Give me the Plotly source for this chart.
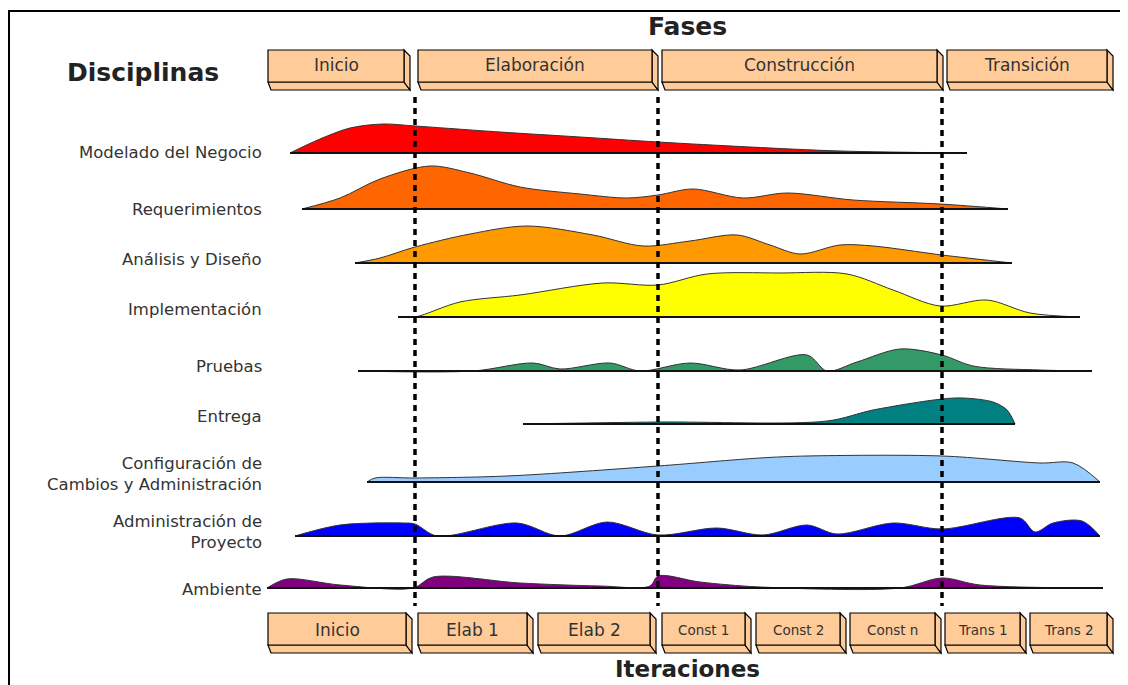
import plotly.graph_objects as go

# ---------------- DATA ----------------
disciplines = ["Modelado del Negocio", "Requerimientos", "Análisis y Diseño", "Implementación",
               "Pruebas", "Entrega", "Configuración de<br>Cambios y Administración",
               "Administración de<br>Proyecto", "Ambiente"]

phases = ["Inicio", "Elaboración", "Construcción", "Transición"]
iterations = ["Inicio", "Elab 1", "Elab 2", "Const 1", "Const 2", "Const n", "Trans 1", "Trans 2"]
phase_bounds = [415, 658, 942]  # time positions of phase changes

modelado_t = [290, 320, 350, 383, 415, 500, 580, 658, 750, 840, 967]
modelado_h = [0, 14, 25, 29, 27, 21, 16, 11, 6, 2, 0]

requer_t = [302, 340, 380, 430, 470, 520, 580, 627, 658, 693, 743, 787, 853, 940, 1008]
requer_h = [0, 11, 30, 43, 36, 22, 15, 11, 14, 20, 11, 16, 9, 5, 0]

analisis_t = [355, 380, 415, 470, 527, 593, 643, 690, 737, 770, 800, 840, 873, 942, 1012]
analisis_h = [0, 5, 16, 29, 37, 28, 17, 22, 28, 18, 9, 18, 17, 8, 0]

implem_t = [398, 415, 460, 520, 603, 658, 707, 780, 847, 893, 940, 987, 1030, 1080]
implem_h = [0, 0, 15, 22, 34, 32, 43, 44, 43, 27, 11, 17, 4, 0]

pruebas_t = [358, 473, 533, 560, 610, 640, 690, 740, 807, 827, 857, 900, 942, 973, 1040, 1092]
pruebas_h = [0, 0, 8, 2, 8, 0, 8, 1, 16, 0, 9, 22, 16, 5, 1, 0]

entrega_t = [523, 658, 827, 873, 942, 963, 993, 1007, 1015]
entrega_h = [0, 2, 3, 14, 25, 26, 22, 14, 0]

config_t = [367, 375, 415, 507, 658, 760, 807, 942, 1040, 1073, 1100]
config_h = [0, 4, 4, 6, 16, 24, 26, 26, 19, 19, 0]

admin_t = [295, 340, 403, 415, 437, 517, 560, 607, 658, 717, 763, 807, 837, 893, 942, 1020, 1035, 1053, 1082, 1100]
admin_h = [0, 11, 13, 12, 0, 13, 0, 14, 1, 8, 1, 11, 2, 13, 7, 18, 4, 13, 15, 0]

ambiente_t = [267, 287, 340, 413, 433, 520, 600, 650, 658, 700, 760, 900, 942, 980, 1103]
ambiente_h = [0, 9, 3, 0, 11, 5, 2, 2, 12, 6, 1, 0, 10, 3, 0]

series_t = [modelado_t, requer_t, analisis_t, implem_t, pruebas_t, entrega_t, config_t, admin_t, ambiente_t]
series_h = [modelado_h, requer_h, analisis_h, implem_h, pruebas_h, entrega_h, config_h, admin_h, ambiente_h]

# ---------------- STYLE / LAYOUT ----------------
colors = ["#FF0000", "#FF6600", "#FF9900", "#FFFF00", "#339966", "#008080", "#99CCFF", "#0000FF", "#800080"]
row_base = [153, 209, 263, 317, 371, 424, 482, 536, 588]
label_y = [152, 209, 259, 309, 366, 416, 474, 532, 589]
phase_box_x = [(268, 404), (418, 652), (662, 937), (947, 1107)]
iter_box_x = [(268, 406), (418, 527), (538, 650), (662, 745), (756, 840), (850, 935), (945, 1020), (1030, 1107)]
iter_font = [17, 17, 17, 13.5, 13.5, 13.5, 13.5, 13.5]
FONT = "DejaVu Sans, Liberation Sans, sans-serif"
BOX_FILL = "#FFCC99"
OFF = 8  # page body margin compensation

fig = go.Figure()

for name, t, h, c, b in zip(disciplines, series_t, series_h, colors, row_base):
    fig.add_trace(go.Scatter(x=[t[0], t[-1]], y=[b, b], mode="lines",
                             line=dict(width=0, color=c), hoverinfo="skip", showlegend=False))
    fig.add_trace(go.Scatter(x=t, y=[b - v for v in h], mode="lines", fill="tonexty",
                             fillcolor=c, line=dict(color="#333333", width=1, shape="spline", smoothing=0.9),
                             name=name.replace("<br>", " "), showlegend=False))
    fig.add_trace(go.Scatter(x=[t[0], t[-1]], y=[b, b], mode="lines",
                             line=dict(width=2.2, color="#111111"), hoverinfo="skip", showlegend=False))

shapes = []
shapes.append(dict(type="rect", x0=9, y0=11, x1=1140, y1=700,
                   line=dict(color="black", width=2), fillcolor="rgba(0,0,0,0)"))

def box3d(x0, x1, y0, y1, d=6, e=8):
    out = []
    out.append(dict(type="path", path=f"M {x0},{y1} L {x1},{y1} L {x1+d},{y1+e} L {x0+3},{y1+e} Z",
                    fillcolor=BOX_FILL, line=dict(color="black", width=1.2)))
    out.append(dict(type="path", path=f"M {x1},{y0} L {x1+d},{y0+e-2} L {x1+d},{y1+e} L {x1},{y1} Z",
                    fillcolor=BOX_FILL, line=dict(color="black", width=1.2)))
    out.append(dict(type="rect", x0=x0, x1=x1, y0=y0, y1=y1,
                    fillcolor=BOX_FILL, line=dict(color="black", width=1.2)))
    return out

annotations = []
for (x0, x1), lab in zip(phase_box_x, phases):
    shapes += box3d(x0, x1, 50, 82)
    annotations.append(dict(x=(x0 + x1) / 2, y=65, text=lab, showarrow=False,
                            font=dict(family=FONT, size=17, color="#333333")))
for (x0, x1), lab, fs in zip(iter_box_x, iterations, iter_font):
    shapes += box3d(x0, x1, 613, 645)
    annotations.append(dict(x=(x0 + x1) / 2, y=630, text=lab, showarrow=False,
                            font=dict(family=FONT, size=fs, color="#333333")))

for xb in phase_bounds:
    shapes.append(dict(type="line", x0=xb, x1=xb, y0=97, y1=606, layer="above",
                       line=dict(color="black", width=3.5, dash="6px,5px")))

for name, ly in zip(disciplines, label_y):
    annotations.append(dict(x=264, y=ly, text=name, showarrow=False, xanchor="right", align="right",
                            font=dict(family=FONT, size=16.5, color="#333333")))

annotations.append(dict(x=687, y=26, text="<b>Fases</b>", showarrow=False,
                        font=dict(family=FONT, size=25, color="#222222")))
annotations.append(dict(x=143, y=72, text="<b>Disciplinas</b>", showarrow=False,
                        font=dict(family=FONT, size=25, color="#222222")))
annotations.append(dict(x=687, y=669, text="<b>Iteraciones</b>", showarrow=False,
                        font=dict(family=FONT, size=23, color="#222222")))

for s in shapes:
    s.setdefault("xref", "x")
    s.setdefault("yref", "y")

fig.update_layout(
    width=1128 - OFF, height=685 - OFF, margin=dict(l=0, r=0, t=0, b=0),
    paper_bgcolor="white", plot_bgcolor="white",
    xaxis=dict(range=[OFF, 1128], visible=False, fixedrange=True),
    yaxis=dict(range=[685, OFF], visible=False, fixedrange=True),
    shapes=shapes, annotations=annotations, showlegend=False,
)

fig.write_html("out.html")
